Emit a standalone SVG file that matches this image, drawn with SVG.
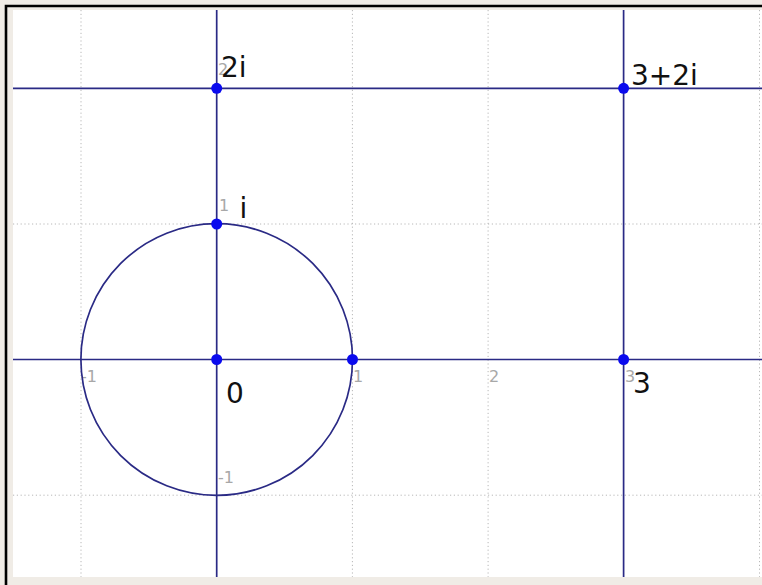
<svg xmlns="http://www.w3.org/2000/svg" width="762" height="585" viewBox="0 0 762 585">
  <style>
    .grid { stroke: #b8b8b8; stroke-width: 1; stroke-dasharray: 1.2 2.6; fill: none; }
    .ln { stroke: #2a2a85; stroke-width: 1.7; fill: none; }
    .pt { fill: #0a0aee; }
    .lbl { font-family: "DejaVu Sans", "Liberation Sans", sans-serif; font-size: 28px; fill: #111; }
    .tick { font-family: "DejaVu Sans", "Liberation Sans", sans-serif; font-size: 16px; fill: #a8a8a8; }
  </style>
  <rect x="0" y="0" width="762" height="585" fill="#f0ece6"/>
  <rect x="13" y="10" width="749" height="567" fill="#ffffff"/>
  <path d="M6 585 V6 H762" fill="none" stroke="#000" stroke-width="2.6"/>

  <g id="grid">
    <line class="grid" x1="81" y1="10" x2="81" y2="577"/>
    <line class="grid" x1="352.4" y1="10" x2="352.4" y2="577"/>
    <line class="grid" x1="488.1" y1="10" x2="488.1" y2="577"/>
    <line class="grid" x1="759.5" y1="10" x2="759.5" y2="577"/>
    <line class="grid" x1="13" y1="224" x2="762" y2="224"/>
    <line class="grid" x1="13" y1="495.2" x2="762" y2="495.2"/>
  </g>

  <g id="ticks">
    <text class="tick" x="81" y="382">-1</text>
    <text class="tick" x="353" y="382">1</text>
    <text class="tick" x="489" y="382">2</text>
    <text class="tick" x="625" y="382">3</text>
    <text class="tick" x="218" y="75">2</text>
    <text class="tick" x="219" y="211">1</text>
    <text class="tick" x="218" y="483">-1</text>
  </g>

  <g id="connectors">
    <line class="ln" x1="13" y1="359.5" x2="762" y2="359.5"/>
    <line class="ln" x1="216.7" y1="10" x2="216.7" y2="577"/>
    <line class="ln" x1="13" y1="88.3" x2="762" y2="88.3"/>
    <line class="ln" x1="623.6" y1="10" x2="623.6" y2="577"/>
    <circle class="ln" cx="216.7" cy="359.5" r="135.8"/>
  </g>

  <g id="node-0">
    <circle class="pt" cx="216.7" cy="359.5" r="5.5"/>
    <text class="lbl" x="226" y="403">0</text>
  </g>
  <g id="node-1">
    <circle class="pt" cx="352.5" cy="359.5" r="5.5"/>
  </g>
  <g id="node-i">
    <circle class="pt" cx="216.7" cy="224" r="5.5"/>
    <text class="lbl" x="239.5" y="218">i</text>
  </g>
  <g id="node-2i">
    <circle class="pt" cx="216.7" cy="88.3" r="5.5"/>
    <text class="lbl" x="221" y="76.5">2i</text>
  </g>
  <g id="node-3">
    <circle class="pt" cx="623.6" cy="359.5" r="5.5"/>
    <text class="lbl" x="633" y="393">3</text>
  </g>
  <g id="node-3plus2i">
    <circle class="pt" cx="623.6" cy="88.3" r="5.5"/>
    <text class="lbl" x="631" y="85">3+2i</text>
  </g>
</svg>
